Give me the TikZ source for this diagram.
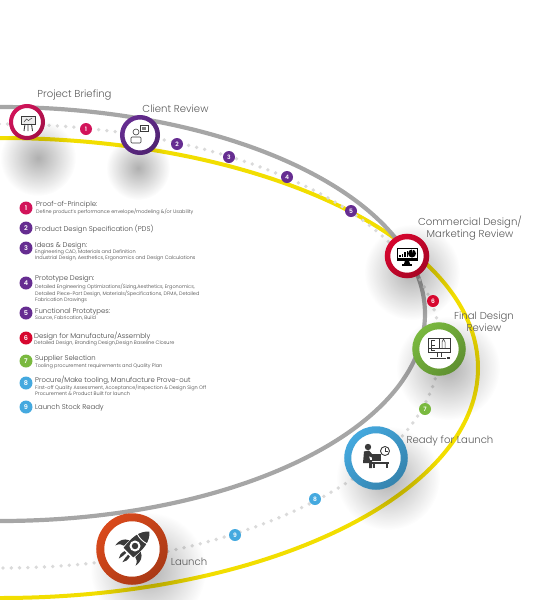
\documentclass[tikz,border=0pt]{standalone}
\usepackage{fontspec}
\setmainfont{Poppins}[UprightFont=* Light,BoldFont=* SemiBold]
\usepackage{xcolor}
\usepackage{tikz}
\usetikzlibrary{positioning,calc,fadings}

\definecolor{crimsonc}{HTML}{D2145A}
\definecolor{purplec}{HTML}{662D91}
\definecolor{redc}{HTML}{D7072F}
\definecolor{greenc}{HTML}{7AB93F}
\definecolor{bluec}{HTML}{45A9DF}
\definecolor{orangec}{HTML}{DA4A1C}
\definecolor{yellowc}{HTML}{F2DE00}
\definecolor{greyc}{HTML}{A6A6A6}
\definecolor{dotc}{HTML}{DADADA}
\definecolor{inkc}{HTML}{3A3A3A}
\definecolor{labelc}{HTML}{5A5A5A}
\tikzfading[name=softspot, inner color=transparent!35, outer color=transparent!100]
\tikzfading[name=ringshade, top color=transparent!100, bottom color=transparent!78]

\begin{document}
\begin{tikzpicture}[
  x=1pt, y=-1pt,
  hub/.style={circle, fill=white, inner sep=0pt},
  ringdark/.style={black, path fading=ringshade, fading angle=45},
  badge/.style={circle, inner sep=0pt, minimum size=12pt, text=white, font=\fontsize{6}{6}\selectfont\bfseries},
  keybadge/.style={badge, minimum size=13pt, font=\fontsize{6.5}{6.5}\selectfont\bfseries},
  steplabel/.style={text=labelc, align=center, inner sep=0pt, font=\fontsize{10.1}{12}\selectfont},
  keyhead/.style={anchor=west, text=labelc!70!black, inner sep=0pt, font=\fontsize{6.9}{7}\selectfont},
  keysub/.style={anchor=north west, text=labelc!70!black, align=left, inner sep=0pt, font=\fontsize{4.95}{5.9}\selectfont},
  spot/.style={black, opacity=.48, path fading=softspot},
  ink/.style={fill=inkc, draw=none},
  thin ink/.style={draw=inkc, line width=.5pt, fill=none}
]

\useasboundingbox (0,0) rectangle (533,600);

\begin{scope}
\clip (0,0) rectangle (533,600);
\draw[yellowc, line width=4pt] (0,368) ellipse [x radius=478, y radius=230];
\draw[greyc, line width=4.2pt] (0,314) ellipse [x radius=425, y radius=207];
\draw[dotc, line width=3.8pt, line cap=round, dash pattern=on 0pt off 8.3pt] (0,346) ellipse [x radius=440, y radius=222];

\fill[spot] (38,158) circle (38);
\fill[spot] (138,168) circle (32);
\fill[spot] (412,272) circle (48);
\fill[spot] (448,368) circle (52);
\fill[spot] (388,478) circle (52);
\fill[spot] (148,570) circle (58);
\end{scope}

\node[hub, draw=crimsonc, line width=4pt, minimum size=32pt] (briefing) at (27,122) {};
\node[hub, draw=purplec, line width=4.5pt, minimum size=35.5pt] (client) at (140,135) {};
\node[hub, draw=redc, line width=5.5pt, minimum size=39pt] (commercial) at (407,256) {};
\node[hub, draw=greenc, line width=7pt, minimum size=46.5pt] (final) at (439,349) {};
\node[hub, draw=bluec, line width=7pt, minimum size=56.5pt] (ready) at (376,458) {};
\node[hub, draw=orangec, line width=8pt, minimum size=63.5pt] (launch) at (132,549) {};

\draw[ringdark, line width=4pt] (briefing.center) circle (16);
\draw[ringdark, line width=4.5pt] (client.center) circle (17.75);
\draw[ringdark, line width=5.5pt] (commercial.center) circle (19.5);
\draw[ringdark, line width=7pt] (final.center) circle (23.25);
\draw[ringdark, line width=7pt] (ready.center) circle (28.25);
\draw[ringdark, line width=8pt] (launch.center) circle (31.75);

\begin{scope}[shift={(briefing.center)}]
\draw[inkc, line width=.9pt, fill=gray!15] (-5.5,-6) rectangle (8,2);
\draw[inkc, line width=.5pt] (-3,0) -- (-.5,-3) -- (1.5,-1.5) -- (5,-4);
\draw[inkc, line width=.9pt] (-2,2) -- (-3,9) (1,2) -- (1,9) (4.5,2) -- (5.5,9);
\end{scope}

\begin{scope}[shift={(client.center)}]
\draw[inkc, line width=.6pt] (-4,-3) circle (3);
\draw[inkc, line width=.6pt, rounded corners=1pt] (-9,8) -- (-9,2) -- (1,2) -- (1,8) -- cycle;
\draw[inkc, line width=.5pt, fill=white] (0,-10) rectangle (8,-3.5);
\fill[gray] (2,-8.5) rectangle (6,-5);
\end{scope}

\begin{scope}[shift={(commercial.center)}]
\fill[black] (-10.5,-8.5) rectangle (10.5,4.5);
\fill[white] (-9.5,-7.5) rectangle (9.5,2);
\fill[black] (-8,.8) rectangle (-6.5,-1);
\fill[black] (-5.5,.8) rectangle (-4,-2.5);
\fill[black] (-3,.8) rectangle (-1.5,-4);
\fill[black] (-.5,.8) rectangle (1,-5.5);
\fill[black] (5,-2.5) circle (4);
\fill[white] (5,-3) -- (5,-7) -- (6,-7) -- cycle;
\fill[black] (-2,4.5) -- (2,4.5) -- (3,8) -- (-3,8) -- cycle;
\fill[black] (-5,8) rectangle (5,9.5);
\end{scope}

\begin{scope}[shift={(final.center)}]
\draw[thin ink] (-7,3) -- (-11,3) -- (-11,-11) -- (11,-11) -- (11,3) -- (-7,3);
\draw[thin ink] (-11,-1) -- (11,-1);
\draw[thin ink] (-4,-9) -- (-8,-9) -- (-8,1) -- (-4,1) (-8,-4) -- (-4,-4);
\draw[thin ink] (0,-11) -- (0,-1);
\draw[thin ink] (3,-1) -- (3,-7) -- (4.5,-10) -- (6,-7) -- (6,-1);
\draw[thin ink] (-2,3) -- (-2,8) (2,3) -- (2,8);
\draw[inkc, line width=.8pt] (-9,9) -- (7,9);
\fill[inkc] (8,8) rectangle (11,10);
\end{scope}

\begin{scope}[shift={(ready.center)}]
\fill[ink] (-8,-11) circle (3.2);
\fill[ink] (-12,-6.5) -- (-7,-7.5) -- (-3,-3) -- (-4,-.5) -- (-7,-2) -- (-6,2) -- (-4,2) -- (-4,10) -- (-7,10) -- (-7,5) -- (-13,5) -- cycle;
\fill[ink] (-4,-4) rectangle (5,2.5);
\fill[ink] (-4,3.5) rectangle (13,5.5);
\fill[ink] (-3,5.5) rectangle (-1,10);
\fill[ink] (10,5.5) rectangle (12,10);
\draw[inkc, line width=.9pt, fill=white] (9,-7) circle (4.5);
\draw[inkc, line width=.6pt] (9,-10) -- (9,-7) -- (11.5,-7);
\end{scope}

\begin{scope}[shift={(launch.center)}, rotate=-45, scale=.85]
\fill[ink] (0,-29) .. controls (9,-21) and (10,-10) .. (8,6) -- (-8,6) .. controls (-10,-10) and (-9,-21) .. (0,-29) -- cycle;
\draw[white, line width=.9pt] (-8.5,-17) .. controls (-3,-15) and (3,-15) .. (8.5,-17);
\fill[white] (0,-5) circle (6.5);
\fill[ink] (0,-5) circle (3.8);
\fill[ink] (-9.5,-5) .. controls (-16,-2) and (-18,3) .. (-17,11) .. controls (-15,6) and (-12,4) .. (-9.5,4) -- cycle;
\fill[ink] (9.5,-5) .. controls (16,-2) and (18,3) .. (17,11) .. controls (15,6) and (12,4) .. (9.5,4) -- cycle;
\fill[ink] (-4.5,8) .. controls (-6,13) and (-5,16) .. (-3,19) .. controls (-2,15) and (-1.5,12) .. (-1.5,8) -- cycle;
\fill[ink] (4.5,8) .. controls (6,13) and (5,16) .. (3,19) .. controls (2,15) and (1.5,12) .. (1.5,8) -- cycle;
\end{scope}

\node[steplabel] (briefing_t) at (74.5,95.5) {Project Briefing};
\node[steplabel] (client_t) at (175.5,108.5) {Client Review};
\node[steplabel] (commercial_t) at (470,228) {Commercial Design/\\Marketing Review};
\node[steplabel] (final_t) at (484,322) {Final Design\\Review};
\node[steplabel] (ready_t) at (450,441) {Ready for Launch};
\node[steplabel] (launch_t) at (189,562) {Launch};

\node[badge, fill=crimsonc] (p1) at (86,129) {1};
\node[badge, fill=purplec] (p2) at (177,144) {2};
\node[badge, fill=purplec] (p3) at (229,157) {3};
\node[badge, fill=purplec] (p4) at (287,177) {4};
\node[badge, fill=purplec] (p5) at (351,211) {5};
\node[badge, fill=redc] (p6) at (433,301) {6};
\node[badge, fill=greenc] (p7) at (425,409) {7};
\node[badge, fill=bluec] (p8) at (315,499) {8};
\node[badge, fill=bluec] (p9) at (235,535) {9};

\node[keybadge, fill=crimsonc] (k1) at (26,208) {1};
\node[keybadge, fill=purplec] (k2) at (26,228) {2};
\node[keybadge, fill=purplec] (k3) at (26,248) {3};
\node[keybadge, fill=purplec] (k4) at (26,283) {4};
\node[keybadge, fill=purplec] (k5) at (26,313) {5};
\node[keybadge, fill=redc] (k6) at (26,338) {6};
\node[keybadge, fill=greenc] (k7) at (26,361) {7};
\node[keybadge, fill=bluec] (k8) at (26,383) {8};
\node[keybadge, fill=bluec] (k9) at (26,407) {9};

\node[keyhead] (h1) at (36,204.5) {Proof-of-Principle:};
\node[keysub] (s1) at (36,209) {Define product's performance envelope/modeling \&/or Usability};
\node[keyhead] (h2) at (35,229.5) {Product Design Specification (PDS)};
\node[keyhead] (h3) at (35,245.5) {Ideas \& Design:};
\node[keysub] (s3) at (35,250) {Engineering CAD, Materials and Definition\\Industrial Design, Aesthetics, Ergonomics and Design Calculations};
\node[keyhead] (h4) at (35,279) {Prototype Design:};
\node[keysub] (s4) at (35,283.5) {Detailed Engineering Optimizations/Sizing,Aesthetics, Ergonomics,\\Detailed Piece-Part Design, Materials/Specifications, DFMA, Detailed\\Fabrication Drawings};
\node[keyhead] (h5) at (35,311.5) {Functional Prototypes:};
\node[keysub] (s5) at (35,316) {Source, Fabrication, Build};
\node[keyhead] (h6) at (34,336) {Design for Manufacture/Assembly};
\node[keysub] (s6) at (34,341) {Detailed Design, Branding Design,Design Baseline Closure};
\node[keyhead] (h7) at (35,359) {Supplier Selection};
\node[keysub] (s7) at (35,364) {Tooling procurement requirements and Quality Plan};
\node[keyhead] (h8) at (35,380.5) {Procure/Make tooling, Manufacture Prove-out};
\node[keysub] (s8) at (35,385) {First-off Quality Assessment, Acceptance/Inspection \& Design Sign Off\\Procurement \& Product Built for launch};
\node[keyhead] (h9) at (35,408) {Launch Stock Ready};

\end{tikzpicture}
\end{document}
